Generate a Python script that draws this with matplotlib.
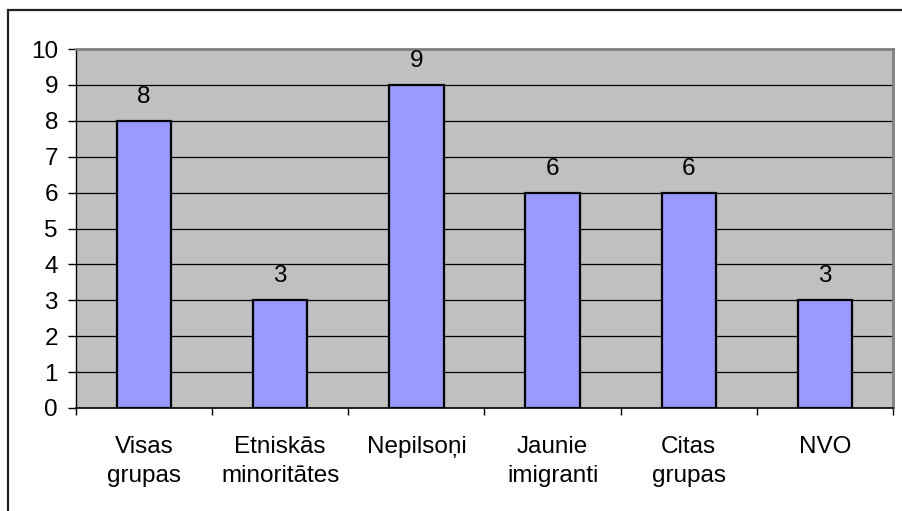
import matplotlib.pyplot as plt
from matplotlib.patches import Rectangle

plt.rcParams['font.family'] = ['Liberation Sans', 'DejaVu Sans']

# Data
categories = ['Visas\ngrupas', 'Etniskās\nminoritātes', 'Nepilsoņi',
              'Jaunie\nimigranti', 'Citas\ngrupas', 'NVO']
values = [8, 3, 9, 6, 6, 3]
y_ticks = list(range(0, 11))

W, H = 903, 511
fig = plt.figure(figsize=(W / 100, H / 100), dpi=100)
fig.patch.set_facecolor('white')

# plot area in pixel coordinates
left, right, top, bottom = 76, 893, 49, 408
ax = fig.add_axes([left / W, 1 - bottom / H, (right - left) / W, (bottom - top) / H])
ax.set_facecolor('#C0C0C0')

x = list(range(len(categories)))
ax.bar(x, values, width=0.4, color='#9999FF', edgecolor='black', linewidth=1.6, zorder=3)

for xi, v in zip(x, values):
    ax.text(xi, v + 0.36, str(v), ha='center', va='bottom', fontsize=17.5, zorder=4)

ax.set_xlim(-0.5, len(categories) - 0.5)
ax.set_ylim(0, 10)
ax.set_yticks(y_ticks)
ax.set_yticklabels([str(t) for t in y_ticks], fontsize=17.5)

# horizontal gridlines
for t in y_ticks[1:-1]:
    ax.axhline(t, color='black', linewidth=0.9, zorder=1)

# category labels between boundary ticks
ax.set_xticks([i + 0.5 for i in range(-1, len(categories))])
ax.set_xticklabels([])
ax.set_xticks(x, minor=True)
ax.set_xticklabels(categories, minor=True, fontsize=17.5, linespacing=1.45)
ax.tick_params(axis='x', which='minor', length=0, pad=20)
ax.tick_params(axis='x', which='major', length=5, width=1, direction='out')
ax.tick_params(axis='y', length=6, width=1, direction='out', pad=7)

for side in ['top', 'right']:
    ax.spines[side].set_color('#808080')
    ax.spines[side].set_linewidth(2)
ax.spines['left'].set_color('black')
ax.spines['bottom'].set_color('black')
ax.spines['left'].set_linewidth(1)
ax.spines['bottom'].set_linewidth(1.2)

# outer chart frame
fig.patches.append(Rectangle((8 / W, -0.05), 1.05, 1 - 10 / H + 0.05,
                             transform=fig.transFigure, fill=False,
                             edgecolor='#222222', linewidth=1.6))

fig.savefig('out.png', dpi=100)
